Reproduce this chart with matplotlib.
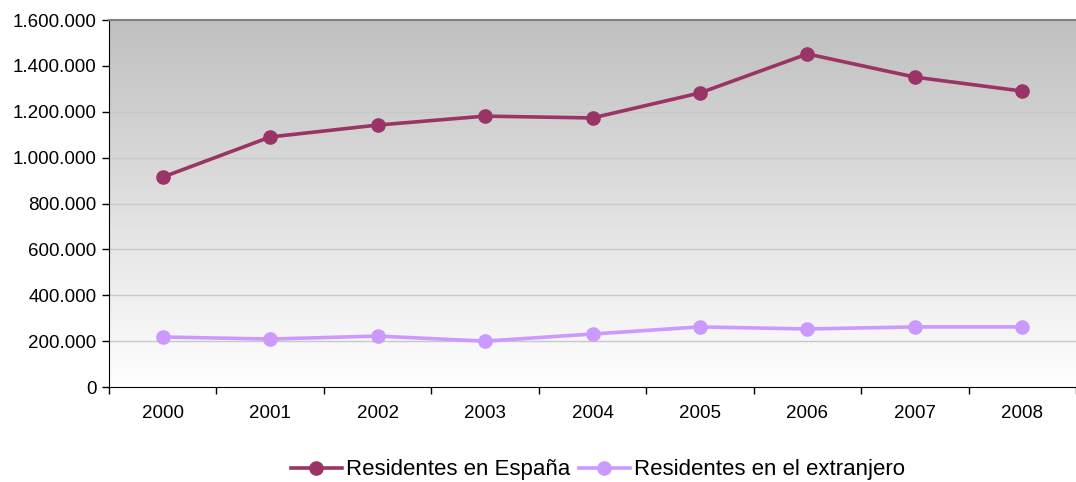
import numpy as np
import matplotlib
matplotlib.use("Agg")
import matplotlib.pyplot as plt
from matplotlib.ticker import FuncFormatter, FixedLocator

plt.rcParams['font.family'] = ['Liberation Sans', 'DejaVu Sans']

years = ["2000", "2001", "2002", "2003", "2004", "2005", "2006", "2007", "2008"]
residentes_espana = [915000, 1090000, 1142000, 1181000, 1173000, 1282000, 1452000, 1351000, 1290000]
residentes_extranjero = [218000, 209000, 222000, 200000, 231000, 262000, 253000, 262000, 262000]
label_espana = "Residentes en España"
label_extranjero = "Residentes en el extranjero"

fig = plt.figure(figsize=(10.76, 4.82), dpi=100)
ax = fig.add_axes([109/1076, (482-387)/482, (1076-109)/1076, (387-20)/482])

x = np.arange(len(years))
ax.set_xlim(-0.5, len(years) - 0.5)
ax.set_ylim(0, 1600000)

# gradient background
grad = np.linspace(0, 1, 256).reshape(-1, 1)
top = np.array([0.75, 0.75, 0.75])
bot = np.array([1.0, 1.0, 1.0])
img = top[None, None, :] * (1 - grad[:, :, None]) + bot[None, None, :] * grad[:, :, None]
ax.imshow(img, extent=[0, 1, 0, 1], transform=ax.transAxes, aspect='auto', zorder=0)

for yv in range(200000, 1600001, 200000):
    ax.axhline(yv, color='#c8c8c8', lw=1.0, zorder=1)

ax.plot(x, residentes_espana, color='#9b3466', lw=2.6, marker='o', ms=9.5, label=label_espana, zorder=3)
ax.plot(x, residentes_extranjero, color='#cc99ff', lw=2.6, marker='o', ms=9.5, label=label_extranjero, zorder=3)

ax.yaxis.set_major_locator(FixedLocator(range(0, 1600001, 200000)))
ax.yaxis.set_major_formatter(FuncFormatter(lambda v, p: f"{int(v):,}".replace(",", ".")))
ax.set_xticks(x)
ax.set_xticklabels(years)
ax.xaxis.set_minor_locator(FixedLocator(np.arange(-0.5, len(years), 1.0)))
ax.tick_params(axis='x', which='major', length=0, labelsize=13.5, pad=13)
ax.tick_params(axis='x', which='minor', length=5, width=1, direction='out')
ax.tick_params(axis='y', length=5, width=1, labelsize=13.5, pad=4)

ax.spines['right'].set_visible(False)
ax.spines['top'].set_color('#808080')
ax.spines['top'].set_linewidth(1.5)
ax.spines['left'].set_color('black')
ax.spines['bottom'].set_color('black')

fig.legend(loc='center', bbox_to_anchor=(598/1076, 1 - 470/482), ncol=2, frameon=False,
           fontsize=16, handlelength=2.3, columnspacing=0.35, handletextpad=0.2)

fig.savefig("out.png", dpi=100)
